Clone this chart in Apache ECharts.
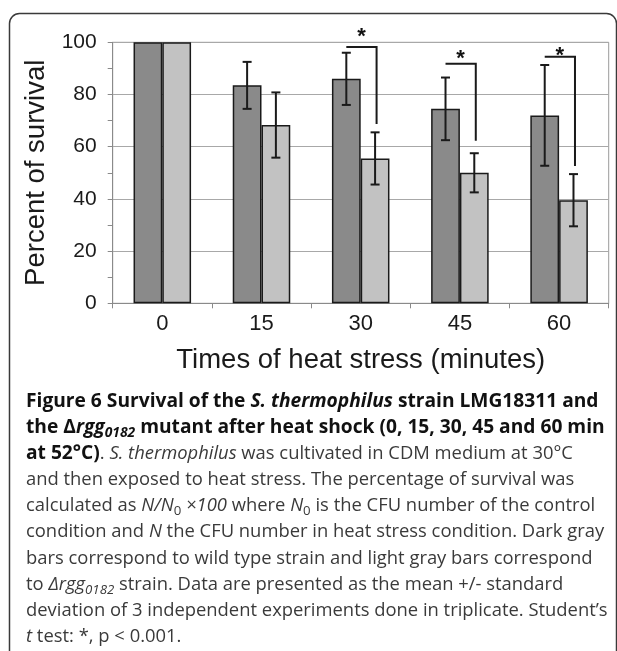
<!DOCTYPE html>
<html>
<head>
<meta charset="utf-8">
<script src="https://cdn.jsdelivr.net/npm/echarts@6/dist/echarts.min.js"></script>
<style>
  html, body { margin: 0; padding: 0; background: #fff; }
  #wrap { position: relative; width: 617px; height: 651px; overflow: hidden; }
  #chart { position: absolute; left: 0; top: 0; width: 617px; height: 651px; }
  #caption {
    position: absolute; left: 26px; top: 387px; width: 590px;
    font-family: "Open Sans", "Noto Sans", sans-serif; font-size: 18.4px;
    line-height: 26.1px; color: #3a3a3a; white-space: nowrap;
  }
  #caption b { color: #111; font-weight: 700; font-size: 19.2px; }
  #caption sub { font-size: 0.72em; line-height: 0; vertical-align: -0.28em; }
</style>
</head>
<body>
<div id="wrap">
  <div id="chart"></div>
  <div id="caption">
    <b>Figure 6 Survival of the <i>S. thermophilus</i> strain LMG18311 and</b><br>
    <b>the Δ<i>rgg</i><sub><i>0182</i></sub> mutant after heat shock (0, 15, 30, 45 and 60 min</b><br>
    <b>at 52°C)</b>. <i>S. thermophilus</i> was cultivated in CDM medium at 30°C<br>
    and then exposed to heat stress. The percentage of survival was<br>
    calculated as <i>N/N</i><sub>0</sub> <i>×100</i> where <i>N</i><sub>0</sub> is the CFU number of the control<br>
    condition and <i>N</i> the CFU number in heat stress condition. Dark gray<br>
    bars correspond to wild type strain and light gray bars correspond<br>
    to <i>Δrgg</i><sub><i>0182</i></sub> strain. Data are presented as the mean +/- standard<br>
    deviation of 3 independent experiments done in triplicate. Student’s<br>
    <i>t</i> test: *, p &lt; 0.001.
  </div>
</div>
<script>
// Heat-shock survival (%), mean and standard deviation per time point
const categories = ['0', '15', '30', '45', '60'];
const wildType = [100, 83.5, 86, 74.5, 72];
const wildTypeSd = [0, 9, 10, 12, 19.3];
const mutant = [100, 68.3, 55.5, 50, 39.5];
const mutantSd = [0, 12.5, 10, 7.5, 10];
const yTicks = [0, 20, 40, 60, 80, 100];

// Significance markers: time point index, bracket level, drop end, star level
const sigIndex = [2, 3, 4];
const sigBracket = [98.2, 91.8, 94.5];
const sigDrop = [68.7, 62.3, 52.6];
const sigStar = [103.8, 95.4, 96.8];

const BAR_RATIO = 0.29;
const FONT = '"Liberation Sans", Arial, sans-serif';

function errorData(means, sds) {
  const out = [];
  means.forEach(function (m, i) {
    if (sds[i] > 0) out.push([i, m - sds[i], m + sds[i]]);
  });
  return out;
}

function errorBar(side) {
  return function (params, api) {
    const cat = api.value(0);
    const lo = api.coord([cat, api.value(1)]);
    const hi = api.coord([cat, api.value(2)]);
    const band = api.size([1, 0])[0];
    const x = lo[0] + side * band * BAR_RATIO / 2;
    const cap = 4.5;
    const style = { stroke: '#1a1a1a', lineWidth: 2, fill: null };
    return {
      type: 'group',
      children: [
        { type: 'line', shape: { x1: x, y1: lo[1], x2: x, y2: hi[1] }, style: style },
        { type: 'line', shape: { x1: x - cap, y1: lo[1], x2: x + cap, y2: lo[1] }, style: style },
        { type: 'line', shape: { x1: x - cap, y1: hi[1], x2: x + cap, y2: hi[1] }, style: style }
      ]
    };
  };
}

const sigData = sigIndex.map(function (c, i) {
  return [c, sigBracket[i], sigDrop[i], sigStar[i]];
});

const chart = echarts.init(document.getElementById('chart'), null, { renderer: 'canvas' });
chart.setOption({
  animation: false,
  backgroundColor: '#fff',
  textStyle: { fontFamily: FONT },
  grid: {
    left: 112.7, right: 8.3, top: 42.3, bottom: 347.7,
    show: true, borderColor: '#9a9a9a', borderWidth: 1
  },
  xAxis: {
    type: 'category',
    data: categories,
    axisLine: { lineStyle: { color: '#8a8a8a', width: 1 } },
    axisTick: { show: true, length: 5, lineStyle: { color: '#8a8a8a' } },
    axisLabel: { fontSize: 22, color: '#1a1a1a', margin: 10, fontFamily: FONT },
    name: 'Times of heat stress (minutes)',
    nameLocation: 'middle',
    nameGap: 43,
    nameMoveOverlap: false,
    nameTextStyle: { fontSize: 27.5, color: '#1a1a1a', fontFamily: FONT }
  },
  yAxis: {
    type: 'value',
    min: yTicks[0],
    max: yTicks[yTicks.length - 1],
    interval: 20,
    axisLine: { show: true, lineStyle: { color: '#8a8a8a', width: 1 } },
    axisTick: { show: true, length: 5, lineStyle: { color: '#8a8a8a' } },
    minorTick: { show: true, splitNumber: 2, length: 5, lineStyle: { color: '#8a8a8a' } },
    splitLine: { show: true, lineStyle: { color: '#a8a8a8', width: 1 } },
    axisLabel: { fontSize: 21, color: '#1a1a1a', margin: 16, fontFamily: FONT },
    name: 'Percent of survival',
    nameLocation: 'middle',
    nameGap: 62,
    nameMoveOverlap: false,
    nameTextStyle: { fontSize: 27.5, color: '#1a1a1a', fontFamily: FONT }
  },
  series: [
    {
      name: 'Wild type',
      type: 'bar',
      data: wildType,
      barWidth: (BAR_RATIO * 100) + '%',
      barGap: '0%',
      itemStyle: { color: '#8a8a8a', borderColor: '#1a1a1a', borderWidth: 1.5 }
    },
    {
      name: 'Δrgg0182',
      type: 'bar',
      data: mutant,
      barWidth: (BAR_RATIO * 100) + '%',
      barGap: '0%',
      itemStyle: { color: '#c2c2c2', borderColor: '#1a1a1a', borderWidth: 1.5 }
    },
    {
      type: 'custom',
      data: errorData(wildType, wildTypeSd),
      renderItem: errorBar(-1),
      encode: { x: 0, y: [1, 2] },
      z: 5
    },
    {
      type: 'custom',
      data: errorData(mutant, mutantSd),
      renderItem: errorBar(1),
      encode: { x: 0, y: [1, 2] },
      z: 5
    },
    {
      type: 'custom',
      data: sigData,
      encode: { x: 0, y: [1, 2, 3] },
      clip: false,
      z: 6,
      renderItem: function (params, api) {
        const cat = api.value(0);
        const top = api.coord([cat, api.value(1)]);
        const drop = api.coord([cat, api.value(2)]);
        const star = api.coord([cat, api.value(3)]);
        const band = api.size([1, 0])[0];
        const xl = top[0] - band * BAR_RATIO / 2;
        const xr = top[0] + band * BAR_RATIO / 2 + 1.5;
        return {
          type: 'group',
          children: [
            {
              type: 'polyline',
              shape: { points: [[xl, top[1]], [xr, top[1]], [xr, drop[1]]] },
              style: { stroke: '#1a1a1a', lineWidth: 2, fill: null }
            },
            {
              type: 'text',
              x: (xl + xr) / 2,
              y: star[1] + 5,
              style: {
                text: '*', font: 'bold 22px ' + FONT, fill: '#111',
                align: 'center', verticalAlign: 'middle'
              }
            }
          ]
        };
      }
    }
  ],
  graphic: [
    {
      type: 'rect',
      shape: { x: 9.5, y: 13.5, width: 607, height: 660, r: 10 },
      style: { fill: null, stroke: '#3a3a3a', lineWidth: 1.5 },
      silent: true,
      z: -1
    }
  ]
});
</script>
</body>
</html>
